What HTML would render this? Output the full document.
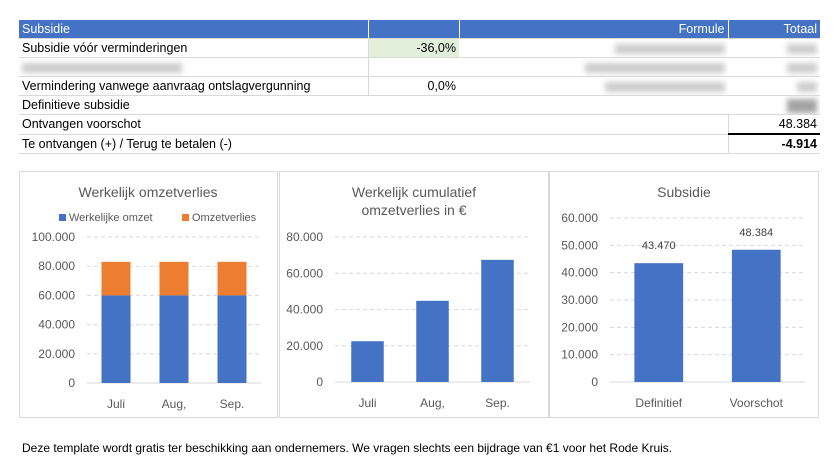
<!DOCTYPE html>
<html><head><meta charset="utf-8"><style>
body{margin:0;width:839px;height:476px;background:#fff;font-family:"Liberation Sans",sans-serif;position:relative;overflow:hidden}
.t{position:absolute;left:19px;top:20px;width:801px;table-layout:fixed;border-collapse:collapse;font-size:12.5px;color:#000}
.t td{height:18px;padding:0 3px;border-bottom:1px solid #d9d9d9;white-space:nowrap;overflow:hidden;line-height:18px}
.h td{background:#4472c4;color:#fff;border-right:1px solid #fff}
.blur{display:inline-block;height:10px;background:#aaa;filter:blur(3px);opacity:.6;vertical-align:middle}
svg text{font-family:"Liberation Sans",sans-serif}
</style></head><body>
<table class="t">
<colgroup><col style="width:349px"><col style="width:91px"><col style="width:269px"><col style="width:92px"></colgroup>
<tr class="h"><td>Subsidie</td><td></td><td style="text-align:right">Formule</td><td style="text-align:right;border-right:none">Totaal</td></tr>
<tr><td style="border-right:1px solid #d9d9d9">Subsidie vóór verminderingen</td><td style="background:#e2efda;text-align:right">-36,0%</td><td style="text-align:right"><span class="blur" style="width:110px"></span></td><td style="text-align:right"><span class="blur" style="width:30px"></span></td></tr>
<tr><td style="border-right:1px solid #d9d9d9"><span class="blur" style="width:160px"></span></td><td></td><td style="text-align:right"><span class="blur" style="width:140px"></span></td><td style="text-align:right"><span class="blur" style="width:30px"></span></td></tr>
<tr><td style="border-right:1px solid #d9d9d9">Vermindering vanwege aanvraag ontslagvergunning</td><td style="text-align:right">0,0%</td><td style="text-align:right"><span class="blur" style="width:120px"></span></td><td style="text-align:right"><span class="blur" style="width:20px"></span></td></tr>
<tr><td colspan="3">Definitieve subsidie</td><td style="text-align:right"><span class="blur" style="width:30px;height:14px;background:#666"></span></td></tr>
<tr><td colspan="3" style="border-right:1px solid #d9d9d9">Ontvangen voorschot</td><td style="text-align:right">48.384</td></tr>
<tr><td colspan="3" style="border-right:1px solid #d9d9d9">Te ontvangen (+) / Terug te betalen (-)</td><td style="text-align:right;font-weight:bold;border-top:2px solid #000">-4.914</td></tr>
</table>
<svg id="c" width="839" height="476" style="position:absolute;left:0;top:0">
<rect x="19.5" y="171.5" width="258" height="246" fill="none" stroke="#d9d9d9"/>
<rect x="279.5" y="171.5" width="269" height="246" fill="none" stroke="#d9d9d9"/>
<rect x="549.5" y="171.5" width="269" height="246" fill="none" stroke="#d9d9d9"/>
<text x="148" y="197" text-anchor="middle" font-size="14" fill="#595959">Werkelijk omzetverlies</text>
<rect x="59" y="214" width="7" height="7" fill="#4472c4"/>
<text x="69" y="221" font-size="11" fill="#595959">Werkelijke omzet</text>
<rect x="182" y="214" width="7" height="7" fill="#ed7d31"/>
<text x="192" y="221" font-size="11" fill="#595959">Omzetverlies</text>
<text x="414" y="197" text-anchor="middle" font-size="14" fill="#595959">Werkelijk cumulatief</text>
<text x="414" y="215" text-anchor="middle" font-size="14" fill="#595959">omzetverlies in €</text>
<text x="684" y="197" text-anchor="middle" font-size="14" fill="#595959">Subsidie</text>
<text x="22" y="452" font-size="12" fill="#000">Deze template wordt gratis ter beschikking aan ondernemers. We vragen slechts een bijdrage van €1 voor het Rode Kruis.</text>
</svg>
<script>
const months=["Juli","Aug,","Sep."];
const omzet=[60000,60000,60000];
const verlies=[23000,23000,23000];
const ticks1=[0,20000,40000,60000,80000,100000];
const cumul=[22500,44800,67400];
const ticks2=[0,20000,40000,60000,80000];
const subCats=["Definitief","Voorschot"];
const subVals=[43470,48384];
const ticks3=[0,10000,20000,30000,40000,50000,60000];
const svg=document.getElementById('c');
const NS='http://www.w3.org/2000/svg';
function el(t,a){const e=document.createElementNS(NS,t);for(const k in a)e.setAttribute(k,a[k]);svg.appendChild(e);return e;}
const fmt=v=>v===0?"0":v.toLocaleString('de-DE');
function axis(x0,x1,y0,y1,max,ticks,cats,pfx){
  const y=v=>y0-(v/max)*(y0-y1);
  ticks.forEach(t=>{
    if(t>0){const l=el('line',{x1:x0,x2:x1,y1:y(t),y2:y(t),stroke:'#d9d9d9','stroke-dasharray':'4,3'});
    
    }
    const tx=el('text',{x:x0-12,y:y(t)+4,'text-anchor':'end','font-size':12,fill:'#595959'});tx.textContent=fmt(t);
    
    
  });
  const b=el('line',{x1:x0,x2:x1,y1:y0,y2:y0,stroke:'#d9d9d9'});
  
  
  const bw=(x1-x0)/cats.length;
  const xc=i=>x0+bw*(i+0.5);
  cats.forEach((c,i)=>{const tx=el('text',{x:xc(i),y:y0+25,'text-anchor':'middle','font-size':12,fill:'#595959'});tx.textContent=c;
    
    });
  return {y,xc,bw};
}
let a=axis(87,261,383,237,100000,ticks1,months,'chart1');
months.forEach((m,i)=>{const w=a.bw*0.5,x=a.xc(i)-w/2;
  const r1=el('rect',{x:x,y:a.y(omzet[i]),width:w,height:a.y(0)-a.y(omzet[i]),fill:'#4472c4'});
  
  
  const r2=el('rect',{x:x,y:a.y(omzet[i]+verlies[i]),width:w,height:a.y(omzet[i])-a.y(omzet[i]+verlies[i]),fill:'#ed7d31'});
  
  
});
a=axis(335,530,382,237,80000,ticks2,months,'chart2');
months.forEach((m,i)=>{const w=a.bw*0.5,x=a.xc(i)-w/2;
  const r=el('rect',{x:x,y:a.y(cumul[i]),width:w,height:a.y(0)-a.y(cumul[i]),fill:'#4472c4'});
  
  
});
a=axis(610,805,382,218,60000,ticks3,subCats,'chart3');
subCats.forEach((c,i)=>{const w=a.bw*0.5,x=a.xc(i)-w/2;
  const r=el('rect',{x:x,y:a.y(subVals[i]),width:w,height:a.y(0)-a.y(subVals[i]),fill:'#4472c4'});
  
  
  const t=el('text',{x:a.xc(i),y:a.y(subVals[i])-14,'text-anchor':'middle','font-size':11,fill:'#404040'});t.textContent=fmt(subVals[i]);
  
  
});
</script>
</body></html>
